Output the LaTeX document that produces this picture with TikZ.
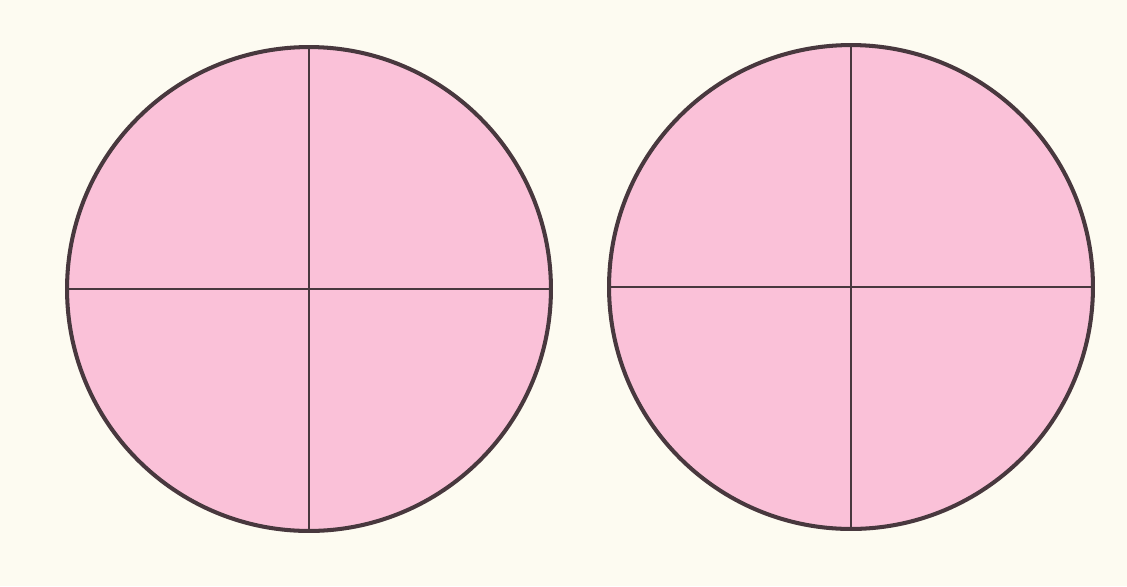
\documentclass[tikz,border=0pt]{standalone}
\usepackage{tikz}
\usetikzlibrary{positioning}

\definecolor{paper}{RGB}{253,251,241}
\definecolor{petal}{RGB}{250,193,216}
\definecolor{ink}{RGB}{72,56,62}

\begin{document}
\begin{tikzpicture}[
			x=0.02cm,y=-0.02cm,
			disc/.style={
				circle,
				draw=ink,
				fill=petal,
				line width=2.3pt,
				minimum size=9.68cm,
				inner sep=0pt,
				outer sep=0pt
			},
			cut/.style={
				draw=ink,
				line width=1.3pt
			}
			]

			% 背景
			\fill[paper] (0,0) rectangle (1127,586);
			\useasboundingbox (0,0) rectangle (1127,586);

			% 左边的圆
			\node[disc] (left) at (309,289) {};
			\draw[cut] (left.north) -- (left.south);
			\draw[cut] (left.west) -- (left.east);

			% 右边的圆
			\node[disc] (right) at (851,287) {};
			\draw[cut] (right.north) -- (right.south);
			\draw[cut] (right.west) -- (right.east);

        \end{tikzpicture}
\end{document}
